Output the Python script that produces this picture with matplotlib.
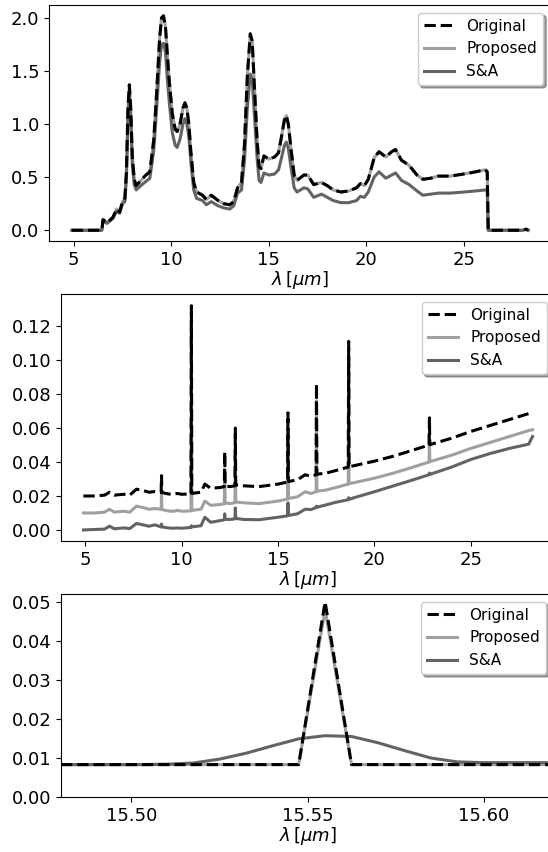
import matplotlib
matplotlib.use("Agg")
import matplotlib.pyplot as plt
from matplotlib.ticker import MultipleLocator, FormatStrFormatter

# ---- panel 1: full spectrum ----
wl_1 = [4.9, 6.44, 6.5, 6.7, 7.0, 7.2, 7.35, 7.5, 7.62, 7.7, 7.78, 7.85, 7.92, 8.0, 8.1,
        8.2, 8.5, 8.7, 8.9, 9.1, 9.25, 9.4, 9.5, 9.6, 9.7, 9.8, 9.9, 10.05, 10.2, 10.3,
        10.45, 10.6, 10.7, 10.8, 10.9, 11.0, 11.15, 11.3, 11.6, 11.8, 12.05, 12.4, 12.7,
        13.0, 13.2, 13.4, 13.6, 13.75, 13.9, 14.05, 14.15, 14.25, 14.4, 14.5, 14.6, 14.75,
        15.0, 15.3, 15.5, 15.65, 15.8, 15.9, 16.0, 16.15, 16.3, 16.45, 16.8, 17.0, 17.3,
        17.7, 18.0, 18.3, 18.7, 19.1, 19.5, 19.7, 19.9, 20.1, 20.4, 20.65, 21.0, 21.3,
        21.5, 21.8, 22.2, 22.6, 22.9, 23.3, 23.7, 24.3, 25.0, 25.6, 26.1, 26.2, 26.25,
        27.0, 28.0, 28.2, 28.3]
orig_1 = [0.00, 0.00, 0.10, 0.07, 0.12, 0.20, 0.17, 0.27, 0.30, 0.55, 1.15, 1.37, 1.15, 0.70, 0.48,
          0.42, 0.48, 0.52, 0.55, 0.85, 1.30, 1.80, 2.00, 2.02, 1.92, 1.65, 1.40, 1.10, 0.95, 0.93,
          1.00, 1.15, 1.20, 1.15, 1.00, 0.75, 0.45, 0.36, 0.33, 0.29, 0.33, 0.28, 0.25,
          0.24, 0.27, 0.40, 0.45, 0.80, 1.45, 1.85, 1.78, 1.40, 0.85, 0.60, 0.58, 0.70,
          0.67, 0.69, 0.73, 0.88, 1.04, 1.08, 1.00, 0.75, 0.52, 0.47, 0.52, 0.52, 0.43,
          0.45, 0.42, 0.38, 0.36, 0.37, 0.40, 0.44, 0.42, 0.48, 0.68, 0.74, 0.69, 0.74,
          0.76, 0.66, 0.61, 0.52, 0.48, 0.49, 0.51, 0.51, 0.53, 0.55, 0.57, 0.55, 0.00,
          0.00, 0.00, 0.01, 0.00]
prop_1 = list(orig_1)  # proposed overlaps the original everywhere in this panel
sa_1 = [0.00, 0.00, 0.09, 0.065, 0.11, 0.18, 0.16, 0.25, 0.27, 0.50, 1.05, 1.27, 1.05, 0.62, 0.43,
        0.38, 0.43, 0.46, 0.49, 0.75, 1.15, 1.58, 1.75, 1.76, 1.68, 1.42, 1.20, 0.92, 0.80, 0.78,
        0.86, 1.00, 1.05, 1.00, 0.88, 0.65, 0.38, 0.30, 0.28, 0.24, 0.27, 0.23, 0.21,
        0.20, 0.23, 0.35, 0.38, 0.65, 1.15, 1.47, 1.42, 1.12, 0.68, 0.47, 0.45, 0.54,
        0.52, 0.53, 0.57, 0.68, 0.80, 0.83, 0.77, 0.58, 0.40, 0.36, 0.40, 0.39, 0.31,
        0.34, 0.31, 0.28, 0.26, 0.26, 0.28, 0.32, 0.31, 0.36, 0.50, 0.55, 0.49, 0.52,
        0.54, 0.47, 0.43, 0.37, 0.33, 0.34, 0.35, 0.35, 0.36, 0.37, 0.38, 0.37, 0.00,
        0.00, 0.00, 0.01, 0.00]

# ---- panel 2: emission-line spectrum (offset curves) ----
wl_2 = [4.9, 5.5, 6.0, 6.25, 6.5, 7.0, 7.3, 7.65, 8.0, 8.3, 8.6, 8.93, 8.95, 8.97, 9.3,
        9.6, 9.75, 10.0, 10.48, 10.5, 10.52, 11.0, 11.2, 11.5, 12.0, 12.21, 12.23, 12.25,
        12.5, 12.76, 12.78, 12.8, 13.2, 14.0, 15.0, 15.49, 15.51, 15.53, 16.0, 16.4, 16.7,
        16.97, 16.99, 17.01, 17.5, 18.0, 18.64, 18.66, 18.68, 19.0, 20.0, 21.0, 22.0,
        22.83, 22.85, 22.87, 24.0, 25.0, 26.0, 27.0, 28.0, 28.2]
orig_2 = [0.020, 0.020, 0.0205, 0.0222, 0.0205, 0.021, 0.0205, 0.024, 0.0232, 0.0222, 0.0226, 0.0222, 0.032, 0.022, 0.0212,
          0.021, 0.0215, 0.021, 0.0212, 0.132, 0.0215, 0.0222, 0.027, 0.0245, 0.025, 0.0255, 0.046, 0.026,
          0.0255, 0.026, 0.060, 0.0265, 0.026, 0.0255, 0.027, 0.0282, 0.069, 0.0285, 0.0295, 0.0325, 0.0315,
          0.0325, 0.086, 0.0328, 0.0335, 0.035, 0.037, 0.111, 0.0372, 0.038, 0.0405, 0.0435, 0.047,
          0.050, 0.066, 0.0502, 0.054, 0.058, 0.0615, 0.065, 0.0685, 0.069]
prop_2 = [0.010, 0.010, 0.0105, 0.0122, 0.0105, 0.011, 0.0105, 0.014, 0.0132, 0.0122, 0.0126, 0.0122, 0.022, 0.012, 0.0112,
          0.011, 0.0115, 0.011, 0.0112, 0.122, 0.0115, 0.0122, 0.017, 0.0145, 0.015, 0.0155, 0.036, 0.016,
          0.0155, 0.016, 0.050, 0.0165, 0.016, 0.0155, 0.017, 0.0182, 0.059, 0.0185, 0.0195, 0.0225, 0.0215,
          0.0225, 0.076, 0.0228, 0.0235, 0.025, 0.027, 0.101, 0.0272, 0.028, 0.0305, 0.0335, 0.037,
          0.040, 0.056, 0.0402, 0.044, 0.048, 0.0515, 0.055, 0.0585, 0.059]
sa_2 = [0.000, 0.0003, 0.0005, 0.0022, 0.0007, 0.0012, 0.0008, 0.0038, 0.003, 0.0022, 0.003, 0.0018, 0.0035, 0.0018, 0.0012,
        0.001, 0.0012, 0.001, 0.0015, 0.0025, 0.0018, 0.0025, 0.0075, 0.0045, 0.0055, 0.006, 0.0095, 0.0062,
        0.0062, 0.0065, 0.013, 0.0068, 0.0062, 0.006, 0.0075, 0.0083, 0.016, 0.0085, 0.0095, 0.0122, 0.012,
        0.0132, 0.014, 0.0134, 0.0148, 0.0163, 0.0178, 0.019, 0.018, 0.0192, 0.0225, 0.026, 0.0295,
        0.0325, 0.0335, 0.0327, 0.037, 0.0415, 0.045, 0.048, 0.0505, 0.055]

# ---- panel 3: zoom on the 15.55 um line ----
wl_3 = [15.48, 15.4875, 15.495, 15.5025, 15.51, 15.5175, 15.525, 15.5325, 15.54, 15.5475,
        15.555, 15.5625, 15.57, 15.5775, 15.585, 15.5925, 15.60, 15.6075, 15.615, 15.6225]
orig_3 = [0.0083, 0.0083, 0.0083, 0.0083, 0.0083, 0.0083, 0.0083, 0.0083, 0.0083, 0.0083,
          0.050, 0.0083, 0.0083, 0.0083, 0.0083, 0.0083, 0.0083, 0.0083, 0.0083, 0.0083]
prop_3 = [0.0083, 0.0083, 0.0083, 0.0083, 0.0083, 0.0083, 0.0083, 0.0083, 0.0083, 0.0083,
          0.048, 0.0083, 0.0083, 0.0083, 0.0083, 0.0083, 0.0083, 0.0083, 0.0083, 0.0083]
sa_3 = [0.0083, 0.0083, 0.0083, 0.0083, 0.0084, 0.0087, 0.0097, 0.0112, 0.0131, 0.0149,
        0.0157, 0.0155, 0.0139, 0.0119, 0.0100, 0.0090, 0.0088, 0.0088, 0.0088, 0.0088]

labels = ['Original', 'Proposed', 'S&A']

plt.rcParams['font.size'] = 13

fig = plt.figure(figsize=(5.48, 8.52), dpi=100)

# axes boxes in pixels (left, right, top, bottom); right edge runs just off the figure
W, H = 548.0, 852.0
boxes = [(49, 551, 5, 241), (61, 555, 294, 541), (61, 554, 594, 797)]
xlims = [(3.73, 29.47), (3.735, 29.365), (15.48, 15.62)]
ylims = [(-0.101, 2.121), (-0.0065, 0.1389), (0.0, 0.052)]
panels = [(wl_1, orig_1, prop_1, sa_1), (wl_2, orig_2, prop_2, sa_2), (wl_3, orig_3, prop_3, sa_3)]

axes = []
for (l, r, t, b), xl, yl, (wl, orig, prop, sa) in zip(boxes, xlims, ylims, panels):
    ax = fig.add_axes([l / W, 1 - b / H, (r - l) / W, (b - t) / H])
    h2, = ax.plot(wl, prop, color='#a0a0a0', lw=2.2, label=labels[1], zorder=2)
    h3, = ax.plot(wl, sa, color='#636363', lw=2.2, label=labels[2], zorder=2)
    h1, = ax.plot(wl, orig, color='black', ls='--', lw=2.2, label=labels[0], zorder=3)
    ax.set_xlim(*xl)
    ax.set_ylim(*yl)
    ax.set_xlabel(r'$\lambda\,[\mu m]$', labelpad=0)
    ax.legend(handles=[h1, h2, h3], loc='upper right', shadow=True, fontsize=11)
    axes.append(ax)

axes[0].xaxis.set_major_locator(MultipleLocator(5))
axes[0].yaxis.set_major_locator(MultipleLocator(0.5))
axes[1].xaxis.set_major_locator(MultipleLocator(5))
axes[1].yaxis.set_major_locator(MultipleLocator(0.02))
axes[1].yaxis.set_major_formatter(FormatStrFormatter('%.2f'))
axes[2].set_xticks([15.50, 15.55, 15.60])
axes[2].xaxis.set_major_formatter(FormatStrFormatter('%.2f'))
axes[2].yaxis.set_major_locator(MultipleLocator(0.01))
axes[2].yaxis.set_major_formatter(FormatStrFormatter('%.2f'))

fig.savefig('out.png', dpi=100)
